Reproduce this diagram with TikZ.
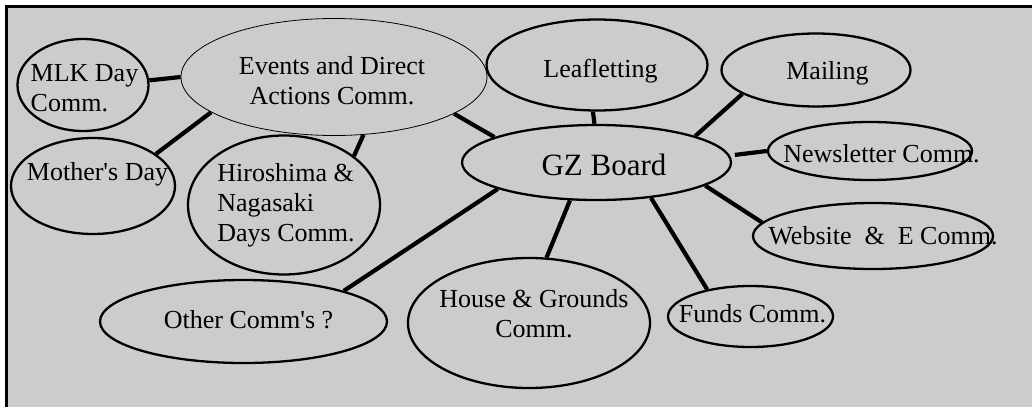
\documentclass[tikz,border=0pt]{standalone}
\usepackage{fontspec}
\setmainfont{Liberation Serif}
\usepackage{tikz}
\usetikzlibrary{shapes.geometric}
\definecolor{panelgray}{HTML}{CCCCCC}

\begin{document}
\begin{tikzpicture}[x=1pt, y=-1pt,
        comm/.style={ellipse, draw=black, line width=2.3pt, inner sep=0pt},
        commtext/.style={inner sep=0pt, font=\fontsize{26}{30}\selectfont},
        link/.style={line width=4.2pt}]

        \useasboundingbox (0,0) rectangle (1032,407);

        %% Panel
        \fill [panelgray] (8,8) rectangle (1032,407);
        \draw [line width=3pt] (6.5,407) -- (6.5,6.5) -- (1032,6.5);

        %% Ellipses
        \node (mlk) [comm, minimum width=131, minimum height=92] at (83,85) {};
        \node (events) [comm, line width=0.8pt, minimum width=306, minimum height=117] at (334,77) {};
        \node (mothers) [comm, minimum width=164, minimum height=96] at (93,186) {};
        \node (hiro) [comm, minimum width=192, minimum height=139] at (284,205) {};
        \node (leaf) [comm, minimum width=221, minimum height=91] at (597,65) {};
        \node (mailing) [comm, minimum width=189, minimum height=73] at (816,70) {};
        \node (gz) [comm, minimum width=269, minimum height=75] at (596.5,162.5) {};
        \node (news) [comm, minimum width=204, minimum height=58] at (870,151) {};
        \node (web) [comm, minimum width=240, minimum height=66] at (873,236) {};
        \node (funds) [comm, minimum width=165, minimum height=61] at (750.5,316.5) {};
        \node (house) [comm, minimum width=242, minimum height=130] at (529,323) {};
        \node (other) [comm, minimum width=287, minimum height=83] at (243.5,321.5) {};

        %% Texts
        \node (mlkText) [commtext, align=left] at (84.5,88) {MLK Day\\Comm.};
        \node (eventsText) [commtext, align=center] at (332,81) {Events and Direct\\Actions Comm.};
        \node (mothersText) [commtext, anchor=base] at (97.5,180) {Mother\textquotesingle s Day};
        \node (hiroText) [commtext, align=left] at (286,205) {Hiroshima \&\\Nagasaki\\Days Comm.};
        \node (leafText) [commtext, anchor=base] at (600.5,77) {Leafletting};
        \node (mailingText) [commtext, anchor=base] at (827.5,79) {Mailing};
        \node (gzText) [commtext, anchor=base, font=\fontsize{31}{37}\selectfont] at (604,175) {GZ Board};
        \node (newsText) [commtext, anchor=base] at (881.5,162) {Newsletter Comm.};
        \node (webText) [commtext, anchor=base] at (883,244) {Website\ \ \&\ \ E Comm.};
        \node (fundsText) [commtext, anchor=base] at (752.5,322) {Funds Comm.};
        \node (houseText) [commtext, align=center] at (534,314) {House \& Grounds\\Comm.};
        \node (otherText) [commtext, anchor=base] at (248.5,328) {Other Comm\textquotesingle s ?};

        %% Links
        \draw [link] (mlk.4) -- (events.180);
        \draw [link] (mothers.27) -- (events.196);
        \draw [link] (hiro.35) -- (events.297);
        \draw [link] (events.343) -- (gz.166);
        \draw [link] (leaf.265) -- (gz.93);
        \draw [link] (mailing.198) -- (gz.15);
        \draw [link, shorten <=5pt] (gz.3) -- (news.180);
        \draw [link] (gz.348) -- (web.173);
        \draw [link] (gz.327) -- (funds.148);
        \draw [link] (gz.235) -- (house.75);
        \draw [link] (other.17) -- (gz.195);

\end{tikzpicture}
\end{document}
